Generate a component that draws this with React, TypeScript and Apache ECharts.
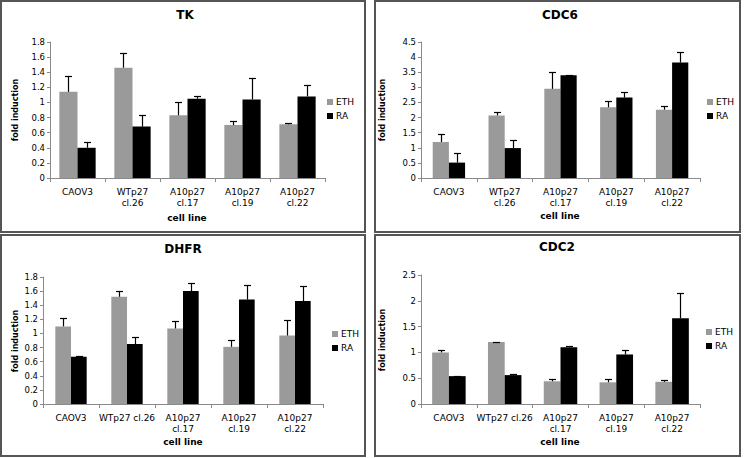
import React, { useEffect, useRef } from "react";
import * as echarts from "echarts";

const catsTwoLine = ["CAOV3", "WTp27\ncl.26", "A10p27\ncl.17", "A10p27\ncl.19", "A10p27\ncl.22"];
const catsOneLine = ["CAOV3", "WTp27 cl.26", "A10p27\ncl.17", "A10p27\ncl.19", "A10p27\ncl.22"];

const tkEth = [1.14, 1.46, 0.83, 0.70, 0.71];
const tkEthErr = [0.21, 0.19, 0.18, 0.05, 0.02];
const tkRa = [0.40, 0.68, 1.05, 1.04, 1.08];
const tkRaErr = [0.07, 0.16, 0.04, 0.29, 0.15];

const cdc6Eth = [1.19, 2.07, 2.95, 2.34, 2.26];
const cdc6EthErr = [0.27, 0.10, 0.56, 0.21, 0.13];
const cdc6Ra = [0.51, 0.99, 3.40, 2.66, 3.82];
const cdc6RaErr = [0.33, 0.27, 0.02, 0.20, 0.34];

const dhfrEth = [1.10, 1.52, 1.07, 0.81, 0.97];
const dhfrEthErr = [0.12, 0.08, 0.11, 0.10, 0.22];
const dhfrRa = [0.67, 0.85, 1.60, 1.48, 1.46];
const dhfrRaErr = [0.01, 0.10, 0.12, 0.20, 0.21];

const cdc2Eth = [1.00, 1.20, 0.44, 0.42, 0.43];
const cdc2EthErr = [0.05, 0.01, 0.04, 0.07, 0.03];
const cdc2Ra = [0.54, 0.56, 1.10, 0.96, 1.66];
const cdc2RaErr = [0.01, 0.02, 0.02, 0.08, 0.50];

const FONT = "DejaVu Sans";
const GREY = "#9a9a9a";
const AXIS = "#8a8a8a";

type Panel = {
  title: string;
  cats: string[];
  eth: number[]; ethErr: number[]; ra: number[]; raErr: number[];
  max: number; interval: number; gap: number;
  grid: { left: number; right: number; top: number; bottom: number };
  titlePos: [number, number];
  yTitle: [number, number];
  xTitle: [number, number];
  legend: [number, number];
};

const panels: Panel[] = [
  {
    title: "TK", cats: catsTwoLine, eth: tkEth, ethErr: tkEthErr, ra: tkRa, raErr: tkRaErr,
    max: 1.8, interval: 0.2, gap: 0.34,
    grid: { left: 50, right: 419, top: 42, bottom: 280 },
    titlePos: [185, 15], yTitle: [15, 110], xTitle: [187, 218], legend: [327, 97],
  },
  {
    title: "CDC6", cats: catsTwoLine, eth: cdc6Eth, ethErr: cdc6EthErr, ra: cdc6Ra, raErr: cdc6RaErr,
    max: 4.5, interval: 0.5, gap: 0.42,
    grid: { left: 421, right: 44, top: 42, bottom: 280 },
    titlePos: [560, 15], yTitle: [382, 110], xTitle: [560, 216], legend: [707, 97],
  },
  {
    title: "DHFR", cats: catsOneLine, eth: dhfrEth, ethErr: dhfrEthErr, ra: dhfrRa, raErr: dhfrRaErr,
    max: 1.8, interval: 0.2, gap: 0.44,
    grid: { left: 43, right: 421, top: 277, bottom: 54 },
    titlePos: [183, 249], yTitle: [15, 341], xTitle: [183, 442], legend: [332, 329],
  },
  {
    title: "CDC2", cats: catsOneLine, eth: cdc2Eth, ethErr: cdc2EthErr, ra: cdc2Ra, raErr: cdc2RaErr,
    max: 2.5, interval: 0.5, gap: 0.40,
    grid: { left: 421, right: 44, top: 275, bottom: 54 },
    titlePos: [557, 247], yTitle: [382, 340], xTitle: [560, 442], legend: [706, 327],
  },
];

function errSeries(idx: number, vals: number[], errs: number[], side: number, gap: number) {
  return {
    type: "custom",
    name: "err",
    xAxisIndex: idx,
    yAxisIndex: idx,
    z: 5,
    silent: true,
    data: vals.map((v, i) => [i, v, v + errs[i]]),
    encode: { x: 0, y: [1, 2] },
    renderItem: (params: any, api: any) => {
      const i = api.value(0);
      const base = api.coord([i, api.value(1)]);
      const top = api.coord([i, api.value(2)]);
      const cw = api.size([1, 0])[0];
      const bw = (cw * (1 - gap)) / 2;
      const x = Math.round(base[0] + (side * bw) / 2) + 0.5;
      const ty = Math.round(top[1]) + 0.5;
      return {
        type: "group",
        children: [
          { type: "line", shape: { x1: x, y1: base[1], x2: x, y2: ty }, style: { stroke: "#000", lineWidth: 1.2 } },
          { type: "line", shape: { x1: x - 3.5, y1: ty, x2: x + 3.5, y2: ty }, style: { stroke: "#000", lineWidth: 1.2 } },
        ],
      };
    },
  };
}

export default function App() {
  const ref = useRef<HTMLDivElement>(null);
  useEffect(() => {
    if (!ref.current) return;
    const chart = echarts.init(ref.current, undefined, { renderer: "svg" });
    const grids: any[] = [];
    const xAxes: any[] = [];
    const yAxes: any[] = [];
    const series: any[] = [];
    const legends: any[] = [];
    const graphics: any[] = [
      { type: "rect", shape: { x: 1, y: 1, width: 364, height: 231 }, style: { fill: "none", stroke: "#555", lineWidth: 2 } },
      { type: "rect", shape: { x: 375, y: 1, width: 365, height: 231 }, style: { fill: "none", stroke: "#555", lineWidth: 2 } },
      { type: "rect", shape: { x: 1, y: 235, width: 364, height: 221 }, style: { fill: "none", stroke: "#555", lineWidth: 2 } },
      { type: "rect", shape: { x: 375, y: 235, width: 365, height: 221 }, style: { fill: "none", stroke: "#555", lineWidth: 2 } },
    ];
    panels.forEach((p, idx) => {
      grids.push({ ...p.grid, containLabel: false });
      xAxes.push({
        type: "category",
        gridIndex: idx,
        data: p.cats,
        axisLine: { lineStyle: { color: AXIS } },
        axisTick: { show: true, length: 4, lineStyle: { color: AXIS } },
        axisLabel: { fontFamily: FONT, fontSize: 9, color: "#000", margin: 8, lineHeight: 11.5, interval: 0 },
      });
      yAxes.push({
        type: "value",
        gridIndex: idx,
        min: 0,
        max: p.max,
        interval: p.interval,
        splitLine: { show: false },
        axisLine: { show: true, lineStyle: { color: AXIS } },
        axisTick: { show: true, length: 3, lineStyle: { color: AXIS } },
        axisLabel: { fontFamily: FONT, fontSize: 8.5, color: "#000", margin: 5 },
      });
      const gapPct = Math.round(p.gap * 100) + "%";
      series.push({
        type: "bar", name: "ETH", xAxisIndex: idx, yAxisIndex: idx, data: p.eth,
        itemStyle: { color: GREY }, barGap: "0%", barCategoryGap: gapPct,
      });
      series.push({
        type: "bar", name: "RA", xAxisIndex: idx, yAxisIndex: idx, data: p.ra,
        itemStyle: { color: "#000" }, barGap: "0%", barCategoryGap: gapPct,
      });
      series.push(errSeries(idx, p.eth, p.ethErr, -1, p.gap));
      series.push(errSeries(idx, p.ra, p.raErr, 1, p.gap));
      legends.push({
        data: ["ETH", "RA"],
        orient: "vertical",
        left: p.legend[0],
        top: p.legend[1],
        itemWidth: 6,
        itemHeight: 6,
        itemGap: 4,
        padding: 0,
        icon: "rect",
        selectedMode: false,
        textStyle: { fontFamily: FONT, fontSize: 9, color: "#000", lineHeight: 10, padding: [0, 0, 0, -2] },
      });
      graphics.push({
        type: "text", x: p.titlePos[0], y: p.titlePos[1],
        style: { text: p.title, fontFamily: FONT, fontWeight: "bold", fontSize: 12, fill: "#000", align: "center", verticalAlign: "middle" },
      });
      graphics.push({
        type: "text", x: p.xTitle[0], y: p.xTitle[1],
        style: { text: "cell line", fontFamily: FONT, fontWeight: "bold", fontSize: 9, fill: "#000", align: "center", verticalAlign: "middle" },
      });
      graphics.push({
        type: "text", x: p.yTitle[0], y: p.yTitle[1], rotation: Math.PI / 2,
        style: { text: "fold induction", fontFamily: FONT, fontWeight: "bold", fontSize: 8, fill: "#000", align: "center", verticalAlign: "middle" },
      });
    });
    chart.setOption({
      animation: false,
      backgroundColor: "#fff",
      grid: grids,
      xAxis: xAxes,
      yAxis: yAxes,
      legend: legends,
      series,
      graphic: graphics,
    });
    return () => chart.dispose();
  }, []);
  return <div ref={ref} style={{ position: "fixed", left: 0, top: 0, width: 744, height: 458 }} />;
}
